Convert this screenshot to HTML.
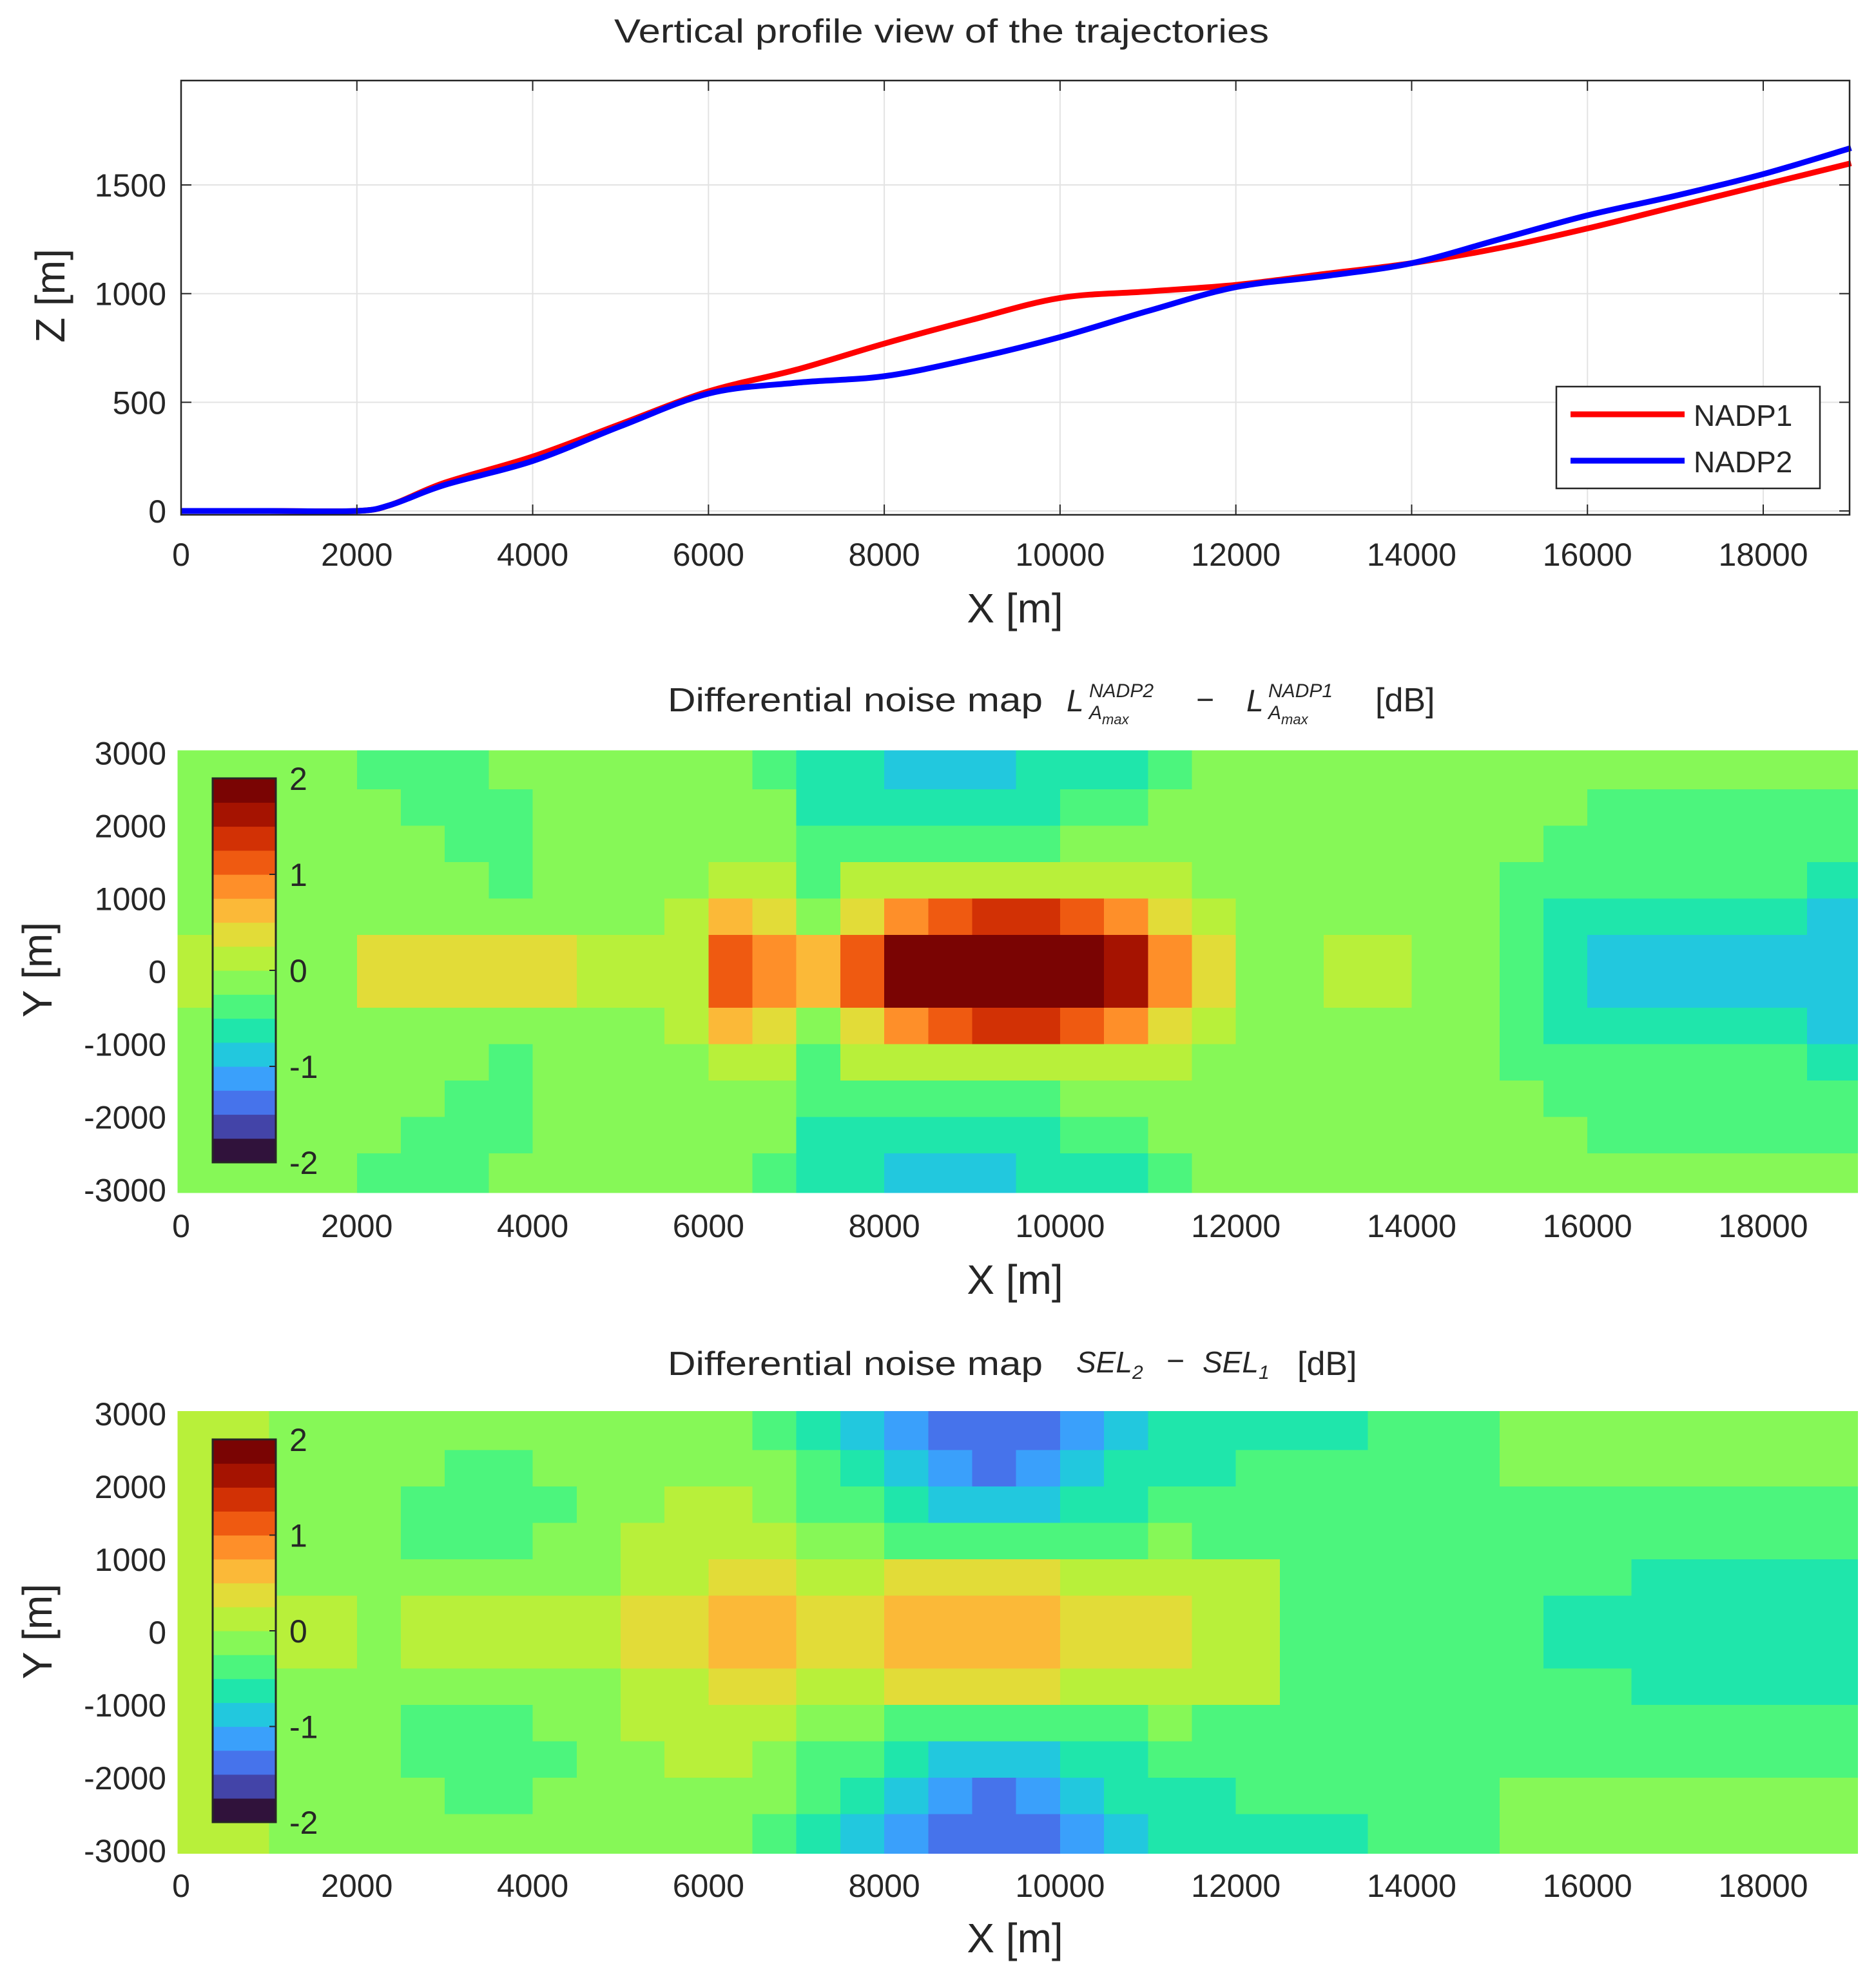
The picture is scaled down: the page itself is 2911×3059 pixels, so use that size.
<!DOCTYPE html>
<html><head><meta charset="utf-8"><style>
html,body{margin:0;padding:0;background:#fff;}
svg{display:block;}
text{font-family:"Liberation Sans",sans-serif;fill:#262626;}
</style></head><body>
<svg id="fig" xmlns="http://www.w3.org/2000/svg" width="2911" height="3059" viewBox="0 0 2911 3059">
<rect x="0" y="0" width="2911" height="3059" fill="#fff"/>
<g id="topchart"></g>
<g id="midchart"></g>
<g id="botchart"></g>
</svg>
<script>
// ---------- data ----------
const xTicks = [0,2000,4000,6000,8000,10000,12000,14000,16000,18000];
const zTicks = [0,500,1000,1500];
const yTicks = [3000,2000,1000,0,-1000,-2000,-3000];
const cbTicks = [2,1,0,-1,-2];
const nadp1X = [0,1000,2000,2400,3000,4000,5000,6000,7000,8000,9000,10000,11000,12000,13000,14000,15000,16000,17000,18000,19000];
const nadp1Z = [0,0,0,30,130,250,400,550,650,770,880,980,1010,1040,1090,1140,1210,1300,1400,1500,1600];
const nadp2X = [0,1000,2000,2400,3000,4000,5000,6000,7000,8000,9000,10000,11000,12000,13000,14000,15000,16000,17000,18000,19000];
const nadp2Z = [0,0,0,30,120,230,390,540,590,620,700,800,920,1030,1080,1140,1250,1360,1450,1550,1670];
const mapRowY = [2750,2250,1750,1250,750,250,-250,-750,-1250,-1750,-2250,-2750];
const mapColX = [250,750,1250,1750,2250,2750,3250,3750,4250,4750,5250,5750,6250,6750,7250,7750,8250,8750,9250,9750,10250,10750,11250,11750,12250,12750,13250,13750,14250,14750,15250,15750,16250,16750,17250,17750,18250,18750];
const lmaxRows = [
[-.1,-.1,-.1,-.1,-.4,-.4,-.4,-.1,-.1,-.1,-.1,-.1,-.1,-.4,-.6,-.6,-.9,-.9,-.9,-.6,-.6,-.6,-.4,-.1,-.1,-.1,-.1,-.1,-.1,-.1,-.1,-.1,-.1,-.1,-.1,-.1,-.1,-.1],
[-.1,-.1,-.1,-.1,-.1,-.4,-.4,-.4,-.1,-.1,-.1,-.1,-.1,-.1,-.6,-.6,-.6,-.6,-.6,-.6,-.4,-.4,-.1,-.1,-.1,-.1,-.1,-.1,-.1,-.1,-.1,-.1,-.4,-.4,-.4,-.4,-.4,-.4],
[-.1,-.1,-.1,-.1,-.1,-.1,-.4,-.4,-.1,-.1,-.1,-.1,-.1,-.1,-.4,-.4,-.4,-.4,-.4,-.4,-.1,-.1,-.1,-.1,-.1,-.1,-.1,-.1,-.1,-.1,-.1,-.4,-.4,-.4,-.4,-.4,-.4,-.4],
[-.1,-.1,-.1,-.1,-.1,-.1,-.1,-.4,-.1,-.1,-.1,-.1,.1,.1,-.4,.1,.1,.1,.1,.1,.1,.1,.1,-.1,-.1,-.1,-.1,-.1,-.1,-.1,-.4,-.4,-.4,-.4,-.4,-.4,-.4,-.6],
[-.1,-.1,-.1,-.1,-.1,-.1,-.1,-.1,-.1,-.1,-.1,.1,.6,.4,-.1,.4,.9,1.1,1.4,1.4,1.1,.9,.4,.1,-.1,-.1,-.1,-.1,-.1,-.1,-.4,-.6,-.6,-.6,-.6,-.6,-.6,-.9],
[.1,.1,-.1,-.1,.4,.4,.4,.4,.4,.1,.1,.1,1.1,.9,.6,1.1,1.9,1.9,1.9,1.9,1.9,1.6,.9,.4,-.1,-.1,.1,.1,-.1,-.1,-.4,-.6,-.9,-.9,-.9,-.9,-.9,-.9],
[.1,.1,-.1,-.1,.4,.4,.4,.4,.4,.1,.1,.1,1.1,.9,.6,1.1,1.9,1.9,1.9,1.9,1.9,1.6,.9,.4,-.1,-.1,.1,.1,-.1,-.1,-.4,-.6,-.9,-.9,-.9,-.9,-.9,-.9],
[-.1,-.1,-.1,-.1,-.1,-.1,-.1,-.1,-.1,-.1,-.1,.1,.6,.4,-.1,.4,.9,1.1,1.4,1.4,1.1,.9,.4,.1,-.1,-.1,-.1,-.1,-.1,-.1,-.4,-.6,-.6,-.6,-.6,-.6,-.6,-.9],
[-.1,-.1,-.1,-.1,-.1,-.1,-.1,-.4,-.1,-.1,-.1,-.1,.1,.1,-.4,.1,.1,.1,.1,.1,.1,.1,.1,-.1,-.1,-.1,-.1,-.1,-.1,-.1,-.4,-.4,-.4,-.4,-.4,-.4,-.4,-.6],
[-.1,-.1,-.1,-.1,-.1,-.1,-.4,-.4,-.1,-.1,-.1,-.1,-.1,-.1,-.4,-.4,-.4,-.4,-.4,-.4,-.1,-.1,-.1,-.1,-.1,-.1,-.1,-.1,-.1,-.1,-.1,-.4,-.4,-.4,-.4,-.4,-.4,-.4],
[-.1,-.1,-.1,-.1,-.1,-.4,-.4,-.4,-.1,-.1,-.1,-.1,-.1,-.1,-.6,-.6,-.6,-.6,-.6,-.6,-.4,-.4,-.1,-.1,-.1,-.1,-.1,-.1,-.1,-.1,-.1,-.1,-.4,-.4,-.4,-.4,-.4,-.4],
[-.1,-.1,-.1,-.1,-.4,-.4,-.4,-.1,-.1,-.1,-.1,-.1,-.1,-.4,-.6,-.6,-.9,-.9,-.9,-.6,-.6,-.6,-.4,-.1,-.1,-.1,-.1,-.1,-.1,-.1,-.1,-.1,-.1,-.1,-.1,-.1,-.1,-.1]
];
const selRows = [
[.1,.1,-.1,-.1,-.1,-.1,-.1,-.1,-.1,-.1,-.1,-.1,-.1,-.4,-.6,-.9,-1.1,-1.4,-1.4,-1.4,-1.1,-.9,-.6,-.6,-.6,-.6,-.6,-.4,-.4,-.4,-.1,-.1,-.1,-.1,-.1,-.1,-.1,-.1],
[.1,.1,-.1,-.1,-.1,-.1,-.4,-.4,-.1,-.1,-.1,-.1,-.1,-.1,-.4,-.6,-.9,-1.1,-1.4,-1.1,-.9,-.6,-.6,-.6,-.4,-.4,-.4,-.4,-.4,-.4,-.1,-.1,-.1,-.1,-.1,-.1,-.1,-.1],
[.1,.1,-.1,-.1,-.1,-.4,-.4,-.4,-.4,-.1,-.1,.1,.1,-.1,-.4,-.4,-.6,-.9,-.9,-.9,-.6,-.6,-.4,-.4,-.4,-.4,-.4,-.4,-.4,-.4,-.4,-.4,-.4,-.4,-.4,-.4,-.4,-.4],
[.1,.1,-.1,-.1,-.1,-.4,-.4,-.4,-.1,-.1,.1,.1,.1,.1,-.1,-.1,-.4,-.4,-.4,-.4,-.4,-.4,-.1,-.4,-.4,-.4,-.4,-.4,-.4,-.4,-.4,-.4,-.4,-.4,-.4,-.4,-.4,-.4],
[.1,.1,-.1,-.1,-.1,-.1,-.1,-.1,-.1,-.1,.1,.1,.4,.4,.1,.1,.4,.4,.4,.4,.1,.1,.1,.1,.1,-.4,-.4,-.4,-.4,-.4,-.4,-.4,-.4,-.6,-.6,-.6,-.6,-.6],
[.1,.1,.1,.1,-.1,.1,.1,.1,.1,.1,.4,.4,.6,.6,.4,.4,.6,.6,.6,.6,.4,.4,.4,.1,.1,-.4,-.4,-.4,-.4,-.4,-.4,-.6,-.6,-.6,-.6,-.6,-.6,-.6],
[.1,.1,.1,.1,-.1,.1,.1,.1,.1,.1,.4,.4,.6,.6,.4,.4,.6,.6,.6,.6,.4,.4,.4,.1,.1,-.4,-.4,-.4,-.4,-.4,-.4,-.6,-.6,-.6,-.6,-.6,-.6,-.6],
[.1,.1,-.1,-.1,-.1,-.1,-.1,-.1,-.1,-.1,.1,.1,.4,.4,.1,.1,.4,.4,.4,.4,.1,.1,.1,.1,.1,-.4,-.4,-.4,-.4,-.4,-.4,-.4,-.4,-.6,-.6,-.6,-.6,-.6],
[.1,.1,-.1,-.1,-.1,-.4,-.4,-.4,-.1,-.1,.1,.1,.1,.1,-.1,-.1,-.4,-.4,-.4,-.4,-.4,-.4,-.1,-.4,-.4,-.4,-.4,-.4,-.4,-.4,-.4,-.4,-.4,-.4,-.4,-.4,-.4,-.4],
[.1,.1,-.1,-.1,-.1,-.4,-.4,-.4,-.4,-.1,-.1,.1,.1,-.1,-.4,-.4,-.6,-.9,-.9,-.9,-.6,-.6,-.4,-.4,-.4,-.4,-.4,-.4,-.4,-.4,-.4,-.4,-.4,-.4,-.4,-.4,-.4,-.4],
[.1,.1,-.1,-.1,-.1,-.1,-.4,-.4,-.1,-.1,-.1,-.1,-.1,-.1,-.4,-.6,-.9,-1.1,-1.4,-1.1,-.9,-.6,-.6,-.6,-.4,-.4,-.4,-.4,-.4,-.4,-.1,-.1,-.1,-.1,-.1,-.1,-.1,-.1],
[.1,.1,-.1,-.1,-.1,-.1,-.1,-.1,-.1,-.1,-.1,-.1,-.1,-.4,-.6,-.9,-1.1,-1.4,-1.4,-1.4,-1.1,-.9,-.6,-.6,-.6,-.6,-.6,-.4,-.4,-.4,-.1,-.1,-.1,-.1,-.1,-.1,-.1,-.1]
];
const cmap = ['#30123b','#4344a8','#4673eb','#3aa0fb','#22c8de','#1fe6ab','#4cf57d','#86f857','#b8f03a','#e2dc38','#fbb938','#fe8f29','#ef5a11','#d23105','#a51301','#7a0403'];

// ---------- scales ----------
const NS='http://www.w3.org/2000/svg';
function xS(x){return 281 + x*0.13639;}
function zS(z){return 793 - z*0.3373;}
function yMid(y){return 1507.5 - y*0.1130;}
function yBot(y){return 2533 - y*0.1130;}
function colorOf(v){let k=Math.floor((v+2)/0.25);k=Math.max(0,Math.min(15,k));return cmap[k];}
function mk(tag,attrs,parent){const e=document.createElementNS(NS,tag);for(const k in attrs)e.setAttribute(k,attrs[k]);parent.appendChild(e);return e;}
function txt(parent,x,y,s,size,anchor){const t=mk('text',{x:x,y:y,'font-size':size,'text-anchor':anchor||'middle'},parent);t.textContent=s;return t;}

// ---------- top chart ----------
const topG=document.getElementById('topchart');
const tTitle=txt(topG,953,66,'Vertical profile view of the trajectories',52,'start');
tTitle.setAttribute('textLength','1016');
tTitle.setAttribute('lengthAdjust','spacingAndGlyphs');


mk('rect',{x:281,y:125,width:2589,height:674,fill:'#fff'},topG);
xTicks.forEach(v=>{
  const l=mk('line',{x1:xS(v),x2:xS(v),y1:125,y2:799,stroke:'#e3e3e3','stroke-width':2},topG);
  
  
});
zTicks.forEach(v=>{
  const l=mk('line',{x1:281,x2:2870,y1:zS(v),y2:zS(v),stroke:'#e3e3e3','stroke-width':2},topG);
  
  
  mk('line',{x1:281,x2:297,y1:zS(v),y2:zS(v),stroke:'#262626','stroke-width':2},topG);
  mk('line',{x1:2854,x2:2870,y1:zS(v),y2:zS(v),stroke:'#262626','stroke-width':2},topG);
  const t=txt(topG,258,zS(v)+18,String(v),50,'end');
  
  
});
function smoothPath(xs,zs){
  const p=xs.map((x,i)=>[xS(x),zS(zs[i])]);
  let d='M'+p[0][0]+','+p[0][1];
  for(let i=0;i<p.length-1;i++){
    const p0=p[Math.max(0,i-1)],p1=p[i],p2=p[i+1],p3=p[Math.min(p.length-1,i+2)];
    const c1=[p1[0]+(p2[0]-p0[0])/6,p1[1]+(p2[1]-p0[1])/6];
    const c2=[p2[0]-(p3[0]-p1[0])/6,p2[1]-(p3[1]-p1[1])/6];
    d+=' C'+c1[0]+','+c1[1]+' '+c2[0]+','+c2[1]+' '+p2[0]+','+p2[1];
  }
  return d;
}
const l1=mk('path',{d:smoothPath(nadp1X,nadp1Z),fill:'none',stroke:'#ff0000','stroke-width':9,'stroke-linejoin':'round'},topG);


const l2=mk('path',{d:smoothPath(nadp2X,nadp2Z),fill:'none',stroke:'#0000ff','stroke-width':9,'stroke-linejoin':'round'},topG);


xTicks.forEach(v=>{
  mk('line',{x1:xS(v),x2:xS(v),y1:783,y2:799,stroke:'#262626','stroke-width':2},topG);
  mk('line',{x1:xS(v),x2:xS(v),y1:125,y2:141,stroke:'#262626','stroke-width':2},topG);
});
const box=mk('rect',{x:281,y:125,width:2589,height:674,fill:'none',stroke:'#262626','stroke-width':2.5},topG);


const leg=mk('g',{},topG);


mk('rect',{x:2415,y:600,width:409,height:158,fill:'#fff',stroke:'#262626','stroke-width':2.5},leg);
mk('line',{x1:2437,x2:2614,y1:643,y2:643,stroke:'#ff0000','stroke-width':9},leg);
mk('line',{x1:2437,x2:2614,y1:715,y2:715,stroke:'#0000ff','stroke-width':9},leg);
const lt1=txt(leg,2628,661,'NADP1',46,'start');


const lt2=txt(leg,2628,733,'NADP2',46,'start');


function xAxis(g,yLab,yTitle){
  xTicks.forEach(v=>{
    const t=txt(g,xS(v),yLab,String(v),50);
    
    
  });
  const t=txt(g,1575,yTitle,'X [m]',64);
  
  
}
xAxis(topG,878,966);
const zl=txt(topG,0,0,'Z [m]',64);
zl.setAttribute('transform','translate(100,459) rotate(-90)');



// ---------- maps ----------
function drawMap(g,rows,yS,cbTop,cbBot,yLabY,xLabY,xTitleY){
  const cells=mk('g',{'shape-rendering':'crispEdges'},g);
  
  
  rows.forEach((row,r)=>{
    const yc=mapRowY[r];
    let yT=yc+250, yB=yc-250;
    if(r===0) yT+=35;
    if(r===rows.length-1) yB-=35;
    row.forEach((v,c)=>{
      const xc=mapColX[c];
      let xL=xc-250, xR=xc+250;
      if(c===0) xL-=40;
      if(c===row.length-1) xR+=70;
      const rc=mk('rect',{x:xS(xL),y:yS(yT),width:xS(xR)-xS(xL)+0.8,height:yS(yB)-yS(yT)+0.8,fill:colorOf(v)},cells);
      
      
    });
  });
  yTicks.forEach(v=>{
    const t=txt(g,258,yS(v)+18,String(v),50,'end');
    
    
  });
  const cb=mk('g',{},g);
  
  
  const h=(cbBot-cbTop)/16;
  cmap.forEach((col,i)=>{
    mk('rect',{x:330,y:cbBot-(i+1)*h,width:98,height:h+0.6,fill:col},cb);
  });
  mk('rect',{x:330,y:cbTop,width:98,height:cbBot-cbTop,fill:'none',stroke:'#262626','stroke-width':3},cb);
  cbTicks.forEach(v=>{
    const yy=cbTop+(2-v)/4*(cbBot-cbTop);
    mk('line',{x1:418,x2:428,y1:yy,y2:yy,stroke:'#262626','stroke-width':2},cb);
    const t=txt(cb,449,yy+18,String(v),50,'start');
    
    
  });
  const yl=txt(g,0,0,'Y [m]',64);
  yl.setAttribute('transform','translate(80,'+yLabY+') rotate(-90)');
  
  
  xAxis(g,xLabY,xTitleY);
}
const midG=document.getElementById('midchart');
drawMap(midG,lmaxRows,yMid,1208,1804,1505,1920,2008);
const botG=document.getElementById('botchart');
drawMap(botG,selRows,yBot,2234,2828,2532,2944,3030);
</script>
<div style="position:absolute;left:0;top:0;width:2911px;height:3059px;pointer-events:none">
<svg width="2911" height="3059" style="position:absolute;left:0;top:0">
<g>
<text x="1036" y="1104" font-size="52" textLength="582" lengthAdjust="spacingAndGlyphs" fill="#262626" font-family="Liberation Sans, sans-serif">Differential noise map</text>
<text x="1655" y="1104" font-size="48" font-style="italic" font-family="Liberation Serif, serif" fill="#262626">L</text>
<text x="1690" y="1082" font-size="30" font-style="italic" font-family="Liberation Serif, serif" fill="#262626">NADP2</text>
<text x="1690" y="1116" font-size="30" font-style="italic" font-family="Liberation Serif, serif" fill="#262626">A<tspan font-size="22" dy="8">max</tspan></text>
<text x="1856" y="1102" font-size="48" font-family="Liberation Serif, serif" fill="#262626">−</text>
<text x="1934" y="1104" font-size="48" font-style="italic" font-family="Liberation Serif, serif" fill="#262626">L</text>
<text x="1968" y="1082" font-size="30" font-style="italic" font-family="Liberation Serif, serif" fill="#262626">NADP1</text>
<text x="1968" y="1116" font-size="30" font-style="italic" font-family="Liberation Serif, serif" fill="#262626">A<tspan font-size="22" dy="8">max</tspan></text>
<text x="2134" y="1104" font-size="52" font-family="Liberation Sans, sans-serif" fill="#262626">[dB]</text>
</g>
<g>
<text x="1036" y="2134" font-size="52" textLength="582" lengthAdjust="spacingAndGlyphs" fill="#262626" font-family="Liberation Sans, sans-serif">Differential noise map</text>
<text x="1670" y="2130" font-size="46" font-style="italic" font-family="Liberation Serif, serif" fill="#262626">SEL<tspan font-size="30" dy="10">2</tspan></text>
<text x="1810" y="2128" font-size="48" font-family="Liberation Serif, serif" fill="#262626">−</text>
<text x="1866" y="2130" font-size="46" font-style="italic" font-family="Liberation Serif, serif" fill="#262626">SEL<tspan font-size="30" dy="10">1</tspan></text>
<text x="2013" y="2134" font-size="52" font-family="Liberation Sans, sans-serif" fill="#262626">[dB]</text>
</g>
</svg>
</div>
</body></html>
